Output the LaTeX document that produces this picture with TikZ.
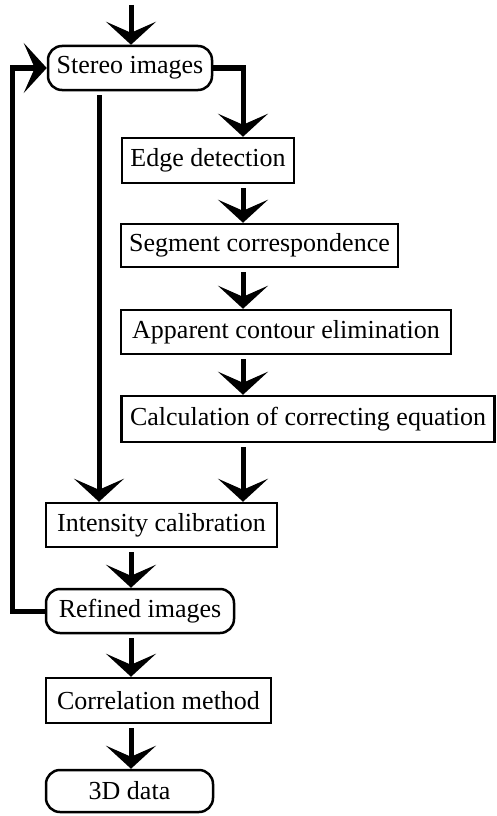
\documentclass[tikz,border=0pt]{standalone}
\usepackage{fontspec}
\setmainfont{Liberation Serif}
\usetikzlibrary{arrows.meta}
\tikzset{
  stepbox/.style={draw, line width=2.5pt, inner sep=0pt, font=\fontsize{26}{30}\selectfont},
  roundbox/.style={stepbox, rounded corners=14pt},
  flow/.style={line width=5pt, -{Stealth[length=23pt,width=50pt,inset=11pt]}},
}
\begin{document}
\begin{tikzpicture}[x=1pt,y=-1pt]
  \useasboundingbox (0,0) rectangle (497,816);

  % Columns of the connectors
  \coordinate (colF) at (12,0);
  \coordinate (colM) at (99,0);
  \coordinate (colL) at (131,0);
  \coordinate (colR) at (243,0);
  \coordinate (entry) at (131,5);

  % Drawing the boxes
  \node [roundbox, minimum width=164pt, minimum height=44pt] (stereo) at (130,68) {Stereo images};
  \node [stepbox, minimum width=172pt, minimum height=45pt] (edge) at (208,160.5) {Edge detection};
  \node [stepbox, minimum width=277pt, minimum height=43pt] (segment) at (259.5,245.5) {Segment correspondence};
  \node [stepbox, minimum width=330pt, minimum height=44pt] (contour) at (286,332) {Apparent contour elimination};
  \node [stepbox, minimum width=373pt, minimum height=46pt] (equation) at (308,419) {Calculation of correcting equation};
  \node [stepbox, minimum width=231pt, minimum height=44pt] (intensity) at (161.5,525) {Intensity calibration};
  \node [roundbox, minimum width=188pt, minimum height=44pt] (refined) at (140,611) {Refined images};
  \node [stepbox, minimum width=225pt, minimum height=45pt] (correlation) at (158.5,700.5) {Correlation method};
  \node [roundbox, minimum width=167pt, minimum height=42pt] (data) at (129.5,791) {3D data};

  % Drawing the input arrow
  \draw [flow] (entry) -- (stereo.north -| entry);

  % Drawing the right column
  \draw [flow] (stereo.east) -- (stereo.east -| colR) -- (edge.north -| colR);
  \draw [flow, shorten <=4pt] (edge.south -| colR) -- (segment.north -| colR);
  \draw [flow, shorten <=4pt] (segment.south -| colR) -- (contour.north -| colR);
  \draw [flow, shorten <=4pt] (contour.south -| colR) -- (equation.north -| colR);
  \draw [flow, shorten <=4pt] (equation.south -| colR) -- (intensity.north -| colR);

  % Drawing the direct path
  \draw [flow, shorten <=4pt] (stereo.south -| colM) -- (intensity.north -| colM);

  % Drawing the left column
  \draw [flow, shorten <=4pt] (intensity.south -| colL) -- (refined.north -| colL);
  \draw [flow, shorten <=4pt] (refined.south -| colL) -- (correlation.north -| colL);
  \draw [flow, shorten <=4pt] (correlation.south -| colL) -- (data.north -| colL);

  % Drawing the feedback loop
  \draw [flow] (refined.west) -- (refined.west -| colF) -- (stereo.west -| colF) -- (stereo.west);
\end{tikzpicture}
\end{document}
